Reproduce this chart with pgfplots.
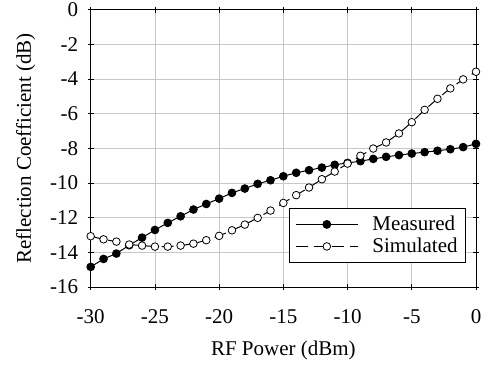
\documentclass[border=0pt]{standalone}
\usepackage{fontspec}
\setmainfont{Liberation Serif}
\usepackage{pgfplots}
\pgfplotsset{compat=1.18}
\usetikzlibrary{calc}
\pgfplotstableread{
x meas sim
-30 -14.84 -13.07
-29 -14.38 -13.25
-28 -14.07 -13.38
-27 -13.59 -13.55
-26 -13.15 -13.61
-25 -12.71 -13.67
-24 -12.30 -13.67
-23 -11.92 -13.61
-22 -11.53 -13.50
-21 -11.21 -13.30
-20 -10.90 -13.05
-19 -10.57 -12.73
-18 -10.32 -12.40
-17 -10.05 -12.01
-16 -9.84 -11.59
-15 -9.61 -11.15
-14 -9.41 -10.70
-13 -9.26 -10.26
-12 -9.11 -9.78
-11 -8.95 -9.34
-10 -8.84 -8.88
-9 -8.74 -8.43
-8 -8.61 -8.01
-7 -8.49 -7.66
-6 -8.39 -7.14
-5 -8.30 -6.49
-4 -8.22 -5.78
-3 -8.14 -5.14
-2 -8.05 -4.54
-1 -7.93 -4.02
0 -7.74 -3.58
}\datatable
\newcommand{\bigf}{\fontsize{21bp}{24bp}\selectfont}
\begin{document}
\begin{tikzpicture}
\begin{axis}[name=ax,
  scale only axis, width=385.3bp, height=277.3bp,
  xmin=-30, xmax=0, ymin=-16, ymax=0,
  xtick={-30,-25,...,0}, ytick={-16,-14,...,0},
  grid=major, major grid style={draw=black!22, line width=0.8bp},
  axis line style={line width=0.8bp},
  tick style={black, line width=0.8bp}, tick align=center, major tick length=6bp,
  /pgf/number format/assume math mode=true,
  ticklabel style={font=\bigf},
  label style={font=\bigf},
  xticklabel style={yshift=-16bp},
  yticklabel style={xshift=-6bp},
  xlabel={RF Power (dBm)}, ylabel={Reflection Coefficient (dB)},
  xlabel style={yshift=-10bp}, ylabel style={yshift=8bp},
  legend style={at={(rel axis cs:0.974,0.087)}, anchor=south east, draw=black, line width=0.8bp,
    font=\bigf, inner xsep=6bp, inner ysep=6bp, row sep=2bp, column sep=12bp},
  legend cell align=left,
  legend image code/.code={\draw[mark repeat=2, mark phase=2, line width=1.2bp, #1] plot coordinates {(0bp,0bp) (31bp,0bp) (62bp,0bp)};},
]
\addplot[black, line width=1bp, mark=*, mark size=3.8bp, mark options={solid, fill=black}] table[x=x, y=meas] {\datatable};
\addlegendentry{Measured}
\addplot[black, line width=1bp, dash pattern=on 12bp off 6bp, mark=*, mark size=3.8bp, mark options={solid, fill=white, line width=0.8bp}] table[x=x, y=sim] {\datatable};
\addlegendentry{Simulated}
\end{axis}
\pgfresetboundingbox
\path ($(ax.south west)+(-90.7bp,-79bp)$) rectangle ($(ax.north east)+(11bp,9.7bp)$);
\end{tikzpicture}
\end{document}
